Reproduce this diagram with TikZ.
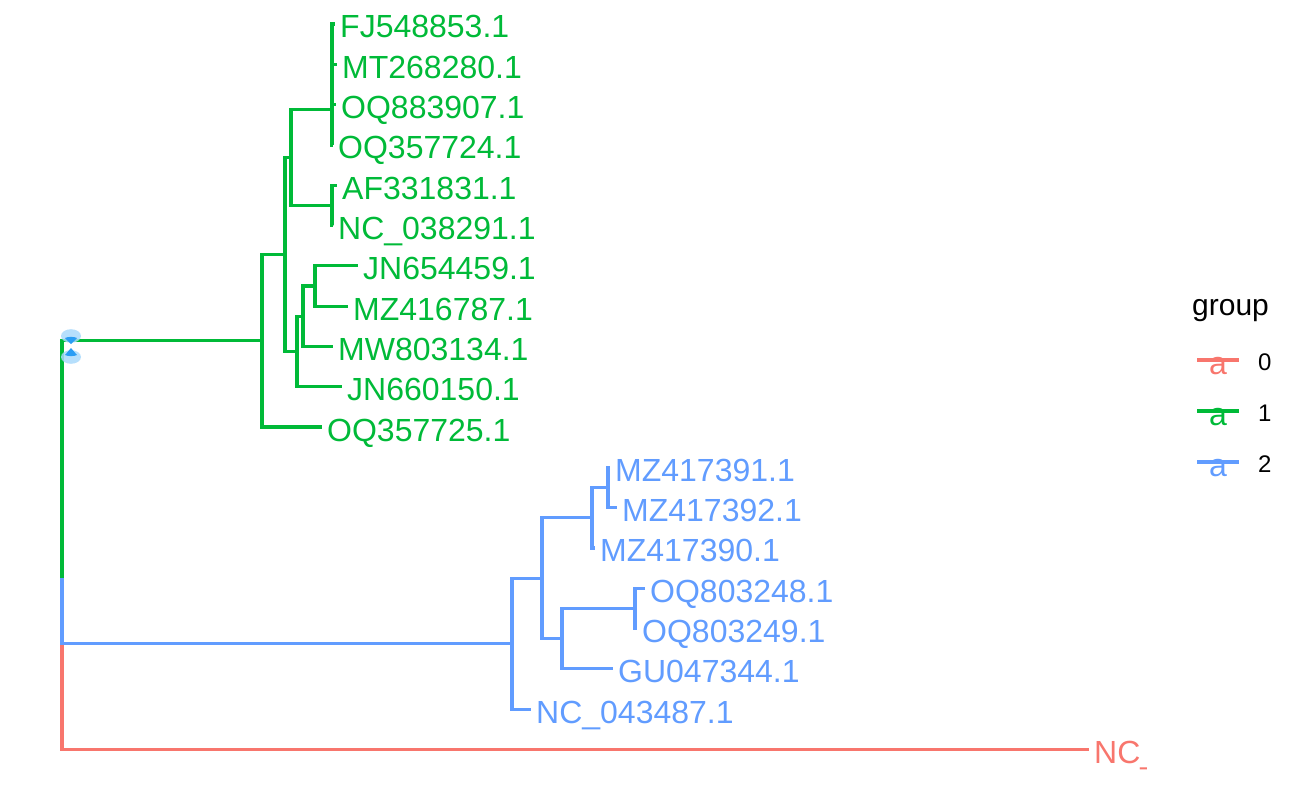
\documentclass[tikz,border=0pt]{standalone}
\usepackage{fontspec}
\setmainfont{Liberation Sans}
\definecolor{grpred}{HTML}{F8766D}
\definecolor{grpgreen}{HTML}{00BA38}
\definecolor{grpblue}{HTML}{619CFF}
\definecolor{hilite}{HTML}{A9D9FB}
\definecolor{hidark}{HTML}{2A9DF4}
\begin{document}
\begin{tikzpicture}[x=1pt, y=-1pt,
    branch/.style = {line width=3.2pt},
    tip/.style = {anchor=base west, inner sep=0pt, font=\fontsize{32}{32}\selectfont},
    keytxt/.style = {anchor=west, inner sep=0pt, font=\fontsize{24}{24}\selectfont}]
    \useasboundingbox (0,0) rectangle (1291,789);
    % inner nodes
    \coordinate (root) at (62, 577.9);
    \coordinate (g1) at (262, 340.7);
    \coordinate (g2) at (285, 254.5);
    \coordinate (g3) at (291, 157.5);
    \coordinate (g4) at (332, 109.6);
    \coordinate (g5) at (332, 205.3);
    \coordinate (g6) at (297, 351.4);
    \coordinate (g7) at (303, 316.2);
    \coordinate (g8) at (315, 286.0);
    \coordinate (b1) at (512, 643.6);
    \coordinate (b2) at (542, 578.1);
    \coordinate (b3) at (592, 517.7);
    \coordinate (b4) at (608, 487.5);
    \coordinate (b5) at (562, 638.6);
    \coordinate (b6) at (635, 608.4);
    % tips
    \coordinate (fj) at (335, 24.0);
    \coordinate (mt) at (337, 64.3);
    \coordinate (oq883) at (336, 104.6);
    \coordinate (oq724) at (333, 145.0);
    \coordinate (af) at (337, 185.2);
    \coordinate (nc291) at (333, 225.5);
    \coordinate (jn459) at (358, 265.8);
    \coordinate (mz787) at (348, 306.1);
    \coordinate (mw) at (333, 346.4);
    \coordinate (jn150) at (342, 386.7);
    \coordinate (oq725) at (322, 427.0);
    \coordinate (mz391) at (610, 467.3);
    \coordinate (mz392) at (617, 507.6);
    \coordinate (mz390) at (595, 547.9);
    \coordinate (oq248) at (645, 588.2);
    \coordinate (oq249) at (637, 628.5);
    \coordinate (gu) at (613, 668.8);
    \coordinate (nc487) at (531, 709.1);
    \coordinate (nc) at (1089, 749.4);
    % group 0
    \draw[branch, grpred] (root) |- (nc);
    \begin{scope}
        \clip (1080,700) rectangle (1146,789);
        \node[tip, text=grpred] (lnc) at ([xshift=5pt, yshift=-14pt]nc) {NC\_043487.1};
    \end{scope}
    % group 2
    \begin{scope}[branch, grpblue]
        \draw (root) |- (b1);
        \draw (b1) |- (b2);
        \draw (b1) |- (nc487);
        \draw (b2) |- (b3);
        \draw (b2) |- (b5);
        \draw (b3) |- (b4);
        \draw (b3) |- (mz390);
        \draw (b4) |- (mz391);
        \draw (b4) |- (mz392);
        \draw (b5) |- (b6);
        \draw (b5) |- (gu);
        \draw (b6) |- (oq248);
        \draw (b6) |- (oq249);
    \end{scope}
    \foreach \t/\l in {mz391/MZ417391.1, mz392/MZ417392.1, mz390/MZ417390.1,
        oq248/OQ803248.1, oq249/OQ803249.1, gu/GU047344.1, nc487/NC\_043487.1}
        \node[tip, text=grpblue] (l\t) at ([xshift=5pt, yshift=-14pt]\t) {\l};
    % group 1
    \begin{scope}[branch, grpgreen]
        \draw (root) |- (g1);
        \draw (g1) |- (g2);
        \draw (g1) |- (oq725);
        \draw (g2) |- (g3);
        \draw (g2) |- (g6);
        \draw (g3) |- (g4);
        \draw (g3) |- (g5);
        \draw (g4) |- (fj);
        \draw (g4) |- (mt);
        \draw (g4) |- (oq883);
        \draw (g4) |- (oq724);
        \draw (g5) |- (af);
        \draw (g5) |- (nc291);
        \draw (g6) |- (g7);
        \draw (g6) |- (jn150);
        \draw (g7) |- (g8);
        \draw (g7) |- (mw);
        \draw (g8) |- (jn459);
        \draw (g8) |- (mz787);
    \end{scope}
    \foreach \t/\l in {fj/FJ548853.1, mt/MT268280.1, oq883/OQ883907.1, oq724/OQ357724.1,
        af/AF331831.1, nc291/NC\_038291.1, jn459/JN654459.1, mz787/MZ416787.1,
        mw/MW803134.1, jn150/JN660150.1, oq725/OQ357725.1}
        \node[tip, text=grpgreen] (l\t) at ([xshift=5pt, yshift=-14pt]\t) {\l};
    % highlight at the root
    \fill[hilite, opacity=0.85] (71,336) ellipse (10 and 6.8);
    \fill[hilite, opacity=0.85] (71,357) ellipse (10 and 6.8);
    \fill[hidark] (65,338) .. controls (68,336.5) and (74,336.5) .. (77,338) -- (71,344) -- cycle;
    \fill[hidark] (71,348) -- (65,355) .. controls (68,356.5) and (74,356.5) .. (77,355) -- cycle;
    % legend
    \node[anchor=base west, inner sep=0pt, font=\fontsize{30}{30}\selectfont] (title) at (1192,315) {group};
    \foreach \c/\v/\y in {grpred/0/360, grpgreen/1/411, grpblue/2/462} {
        \node[text=\c, inner sep=0pt, font=\fontsize{32}{32}\selectfont] (a\v) at (1218,\y+6) {a};
        \coordinate (ks\v) at (1197,\y);
        \coordinate (ke\v) at (1239,\y);
        \draw[\c, line width=3.2pt] (ks\v) -- (ke\v);
        \node[keytxt] (k\v) at (1258,\y+2) {\v};
    }
\end{tikzpicture}
\end{document}
